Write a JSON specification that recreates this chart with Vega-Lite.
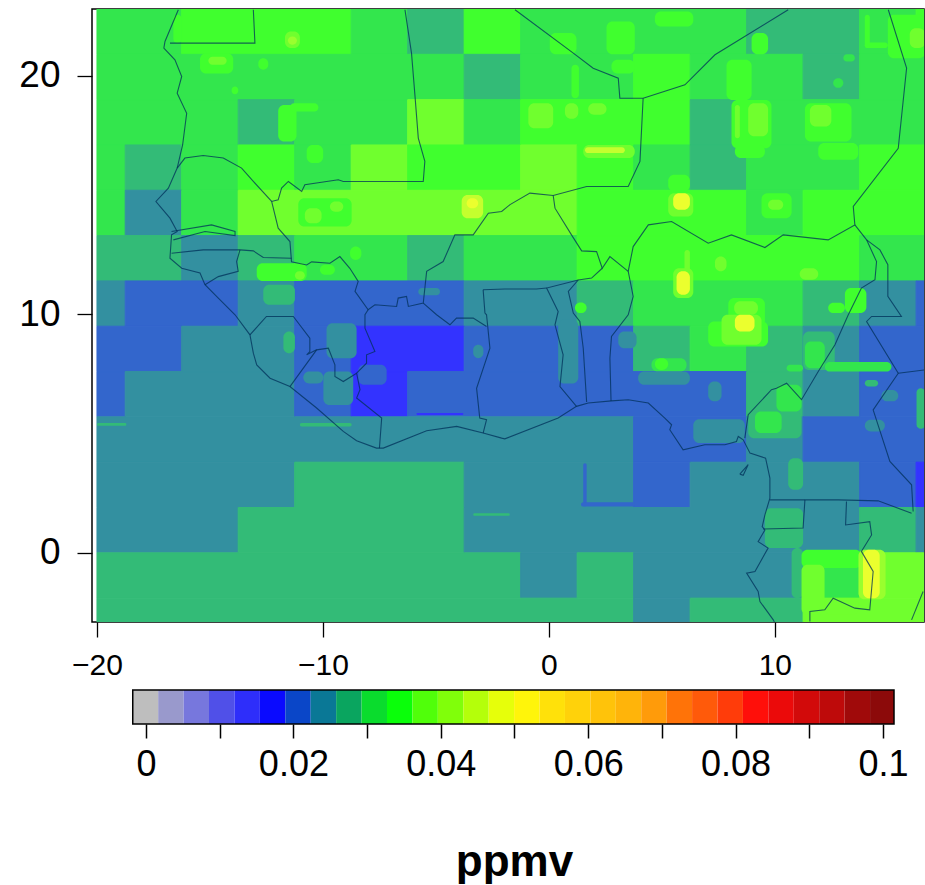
{"$schema":"https://vega.github.io/schema/vega-lite/v6.json","background":"white","padding":{"left":18,"top":8,"right":0,"bottom":0},"bounds":"flush","spacing":68,
"config":{"font":"Liberation Sans","view":{"stroke":null}},
"datasets":{
"base":[
{"lon":-20,"lon2":-16.25,"lat":20.9,"lat2":22.8,"ppmv":0.031},{"lon":-16.25,"lon2":-8.75,"lat":20.9,"lat2":22.8,"ppmv":0.0345},{"lon":-8.75,"lon2":-6.25,"lat":20.9,"lat2":22.8,"ppmv":0.031},{"lon":-6.25,"lon2":-3.75,"lat":20.9,"lat2":22.8,"ppmv":0.0276},{"lon":-3.75,"lon2":-1.25,"lat":20.9,"lat2":22.8,"ppmv":0.0345},{"lon":-1.25,"lon2":8.75,"lat":20.9,"lat2":22.8,"ppmv":0.031},{"lon":8.75,"lon2":13.75,"lat":20.9,"lat2":22.8,"ppmv":0.0276},{"lon":13.75,"lon2":16.25,"lat":20.9,"lat2":22.8,"ppmv":0.031},{"lon":16.25,"lon2":16.7,"lat":20.9,"lat2":22.8,"ppmv":0.0345},
{"lon":-20,"lon2":-3.75,"lat":19,"lat2":20.9,"ppmv":0.031},{"lon":-3.75,"lon2":-1.25,"lat":19,"lat2":20.9,"ppmv":0.0276},{"lon":-1.25,"lon2":3.75,"lat":19,"lat2":20.9,"ppmv":0.031},{"lon":3.75,"lon2":6.25,"lat":19,"lat2":20.9,"ppmv":0.0345},{"lon":6.25,"lon2":11.25,"lat":19,"lat2":20.9,"ppmv":0.031},{"lon":11.25,"lon2":13.75,"lat":19,"lat2":20.9,"ppmv":0.0276},{"lon":13.75,"lon2":16.7,"lat":19,"lat2":20.9,"ppmv":0.031},
{"lon":-20,"lon2":-13.75,"lat":17.1,"lat2":19,"ppmv":0.031},{"lon":-13.75,"lon2":-11.25,"lat":17.1,"lat2":19,"ppmv":0.0276},{"lon":-11.25,"lon2":-6.25,"lat":17.1,"lat2":19,"ppmv":0.031},{"lon":-6.25,"lon2":-3.75,"lat":17.1,"lat2":19,"ppmv":0.038},{"lon":-3.75,"lon2":-1.25,"lat":17.1,"lat2":19,"ppmv":0.031},{"lon":-1.25,"lon2":6.25,"lat":17.1,"lat2":19,"ppmv":0.0345},{"lon":6.25,"lon2":8.75,"lat":17.1,"lat2":19,"ppmv":0.0276},{"lon":8.75,"lon2":16.7,"lat":17.1,"lat2":19,"ppmv":0.031},
{"lon":-20,"lon2":-18.75,"lat":15.2,"lat2":17.1,"ppmv":0.031},{"lon":-18.75,"lon2":-16.25,"lat":15.2,"lat2":17.1,"ppmv":0.0276},{"lon":-16.25,"lon2":-13.75,"lat":15.2,"lat2":17.1,"ppmv":0.031},{"lon":-13.75,"lon2":-11.25,"lat":15.2,"lat2":17.1,"ppmv":0.0345},{"lon":-11.25,"lon2":-8.75,"lat":15.2,"lat2":17.1,"ppmv":0.031},{"lon":-8.75,"lon2":-6.25,"lat":15.2,"lat2":17.1,"ppmv":0.038},{"lon":-6.25,"lon2":-1.25,"lat":15.2,"lat2":17.1,"ppmv":0.0345},{"lon":-1.25,"lon2":1.25,"lat":15.2,"lat2":17.1,"ppmv":0.038},{"lon":1.25,"lon2":3.75,"lat":15.2,"lat2":17.1,"ppmv":0.0345},{"lon":3.75,"lon2":6.25,"lat":15.2,"lat2":17.1,"ppmv":0.031},{"lon":6.25,"lon2":8.75,"lat":15.2,"lat2":17.1,"ppmv":0.0276},{"lon":8.75,"lon2":13.75,"lat":15.2,"lat2":17.1,"ppmv":0.031},{"lon":13.75,"lon2":16.7,"lat":15.2,"lat2":17.1,"ppmv":0.0345},
{"lon":-20,"lon2":-18.75,"lat":13.3,"lat2":15.2,"ppmv":0.031},{"lon":-18.75,"lon2":-16.25,"lat":13.3,"lat2":15.2,"ppmv":0.0241},{"lon":-16.25,"lon2":-13.75,"lat":13.3,"lat2":15.2,"ppmv":0.031},{"lon":-13.75,"lon2":1.25,"lat":13.3,"lat2":15.2,"ppmv":0.038},{"lon":1.25,"lon2":8.75,"lat":13.3,"lat2":15.2,"ppmv":0.0345},{"lon":8.75,"lon2":11.25,"lat":13.3,"lat2":15.2,"ppmv":0.031},{"lon":11.25,"lon2":16.7,"lat":13.3,"lat2":15.2,"ppmv":0.0345},
{"lon":-20,"lon2":-16.25,"lat":11.4,"lat2":13.3,"ppmv":0.0276},{"lon":-16.25,"lon2":-13.75,"lat":11.4,"lat2":13.3,"ppmv":0.0241},{"lon":-13.75,"lon2":-11.25,"lat":11.4,"lat2":13.3,"ppmv":0.0276},{"lon":-11.25,"lon2":-6.25,"lat":11.4,"lat2":13.3,"ppmv":0.031},{"lon":-6.25,"lon2":-3.75,"lat":11.4,"lat2":13.3,"ppmv":0.0276},{"lon":-3.75,"lon2":1.25,"lat":11.4,"lat2":13.3,"ppmv":0.031},{"lon":1.25,"lon2":13.75,"lat":11.4,"lat2":13.3,"ppmv":0.0345},{"lon":13.75,"lon2":16.7,"lat":11.4,"lat2":13.3,"ppmv":0.031},
{"lon":-20,"lon2":-18.75,"lat":9.5,"lat2":11.4,"ppmv":0.0241},{"lon":-18.75,"lon2":-13.75,"lat":9.5,"lat2":11.4,"ppmv":0.0207},{"lon":-13.75,"lon2":-11.25,"lat":9.5,"lat2":11.4,"ppmv":0.0241},{"lon":-11.25,"lon2":-3.75,"lat":9.5,"lat2":11.4,"ppmv":0.0207},{"lon":-3.75,"lon2":1.25,"lat":9.5,"lat2":11.4,"ppmv":0.0241},{"lon":1.25,"lon2":3.75,"lat":9.5,"lat2":11.4,"ppmv":0.0276},{"lon":3.75,"lon2":11.25,"lat":9.5,"lat2":11.4,"ppmv":0.031},{"lon":11.25,"lon2":13.75,"lat":9.5,"lat2":11.4,"ppmv":0.0276},{"lon":13.75,"lon2":16.25,"lat":9.5,"lat2":11.4,"ppmv":0.0241},{"lon":16.25,"lon2":16.7,"lat":9.5,"lat2":11.4,"ppmv":0.0207},
{"lon":-20,"lon2":-16.25,"lat":7.6,"lat2":9.5,"ppmv":0.0207},{"lon":-16.25,"lon2":-11.25,"lat":7.6,"lat2":9.5,"ppmv":0.0241},{"lon":-11.25,"lon2":-8.75,"lat":7.6,"lat2":9.5,"ppmv":0.0207},{"lon":-8.75,"lon2":-3.75,"lat":7.6,"lat2":9.5,"ppmv":0.0172},{"lon":-3.75,"lon2":3.75,"lat":7.6,"lat2":9.5,"ppmv":0.0207},{"lon":3.75,"lon2":6.25,"lat":7.6,"lat2":9.5,"ppmv":0.0276},{"lon":6.25,"lon2":8.75,"lat":7.6,"lat2":9.5,"ppmv":0.031},{"lon":8.75,"lon2":11.25,"lat":7.6,"lat2":9.5,"ppmv":0.0276},{"lon":11.25,"lon2":13.75,"lat":7.6,"lat2":9.5,"ppmv":0.0241},{"lon":13.75,"lon2":16.7,"lat":7.6,"lat2":9.5,"ppmv":0.0207},
{"lon":-20,"lon2":-18.75,"lat":5.7,"lat2":7.6,"ppmv":0.0207},{"lon":-18.75,"lon2":-11.25,"lat":5.7,"lat2":7.6,"ppmv":0.0241},{"lon":-11.25,"lon2":-8.75,"lat":5.7,"lat2":7.6,"ppmv":0.0207},{"lon":-8.75,"lon2":-6.25,"lat":5.7,"lat2":7.6,"ppmv":0.0172},{"lon":-6.25,"lon2":8.75,"lat":5.7,"lat2":7.6,"ppmv":0.0207},{"lon":8.75,"lon2":11.25,"lat":5.7,"lat2":7.6,"ppmv":0.0276},{"lon":11.25,"lon2":13.75,"lat":5.7,"lat2":7.6,"ppmv":0.0241},{"lon":13.75,"lon2":16.7,"lat":5.7,"lat2":7.6,"ppmv":0.0207},
{"lon":-20,"lon2":3.75,"lat":3.8,"lat2":5.7,"ppmv":0.0241},{"lon":3.75,"lon2":8.75,"lat":3.8,"lat2":5.7,"ppmv":0.0207},{"lon":8.75,"lon2":11.25,"lat":3.8,"lat2":5.7,"ppmv":0.0241},{"lon":11.25,"lon2":16.7,"lat":3.8,"lat2":5.7,"ppmv":0.0207},
{"lon":-20,"lon2":-11.25,"lat":1.9,"lat2":3.8,"ppmv":0.0241},{"lon":-11.25,"lon2":-3.75,"lat":1.9,"lat2":3.8,"ppmv":0.0276},{"lon":-3.75,"lon2":3.75,"lat":1.9,"lat2":3.8,"ppmv":0.0241},{"lon":3.75,"lon2":6.25,"lat":1.9,"lat2":3.8,"ppmv":0.0207},{"lon":6.25,"lon2":13.75,"lat":1.9,"lat2":3.8,"ppmv":0.0241},{"lon":13.75,"lon2":16.25,"lat":1.9,"lat2":3.8,"ppmv":0.0207},{"lon":16.25,"lon2":16.7,"lat":1.9,"lat2":3.8,"ppmv":0.0172},
{"lon":-20,"lon2":-13.75,"lat":0,"lat2":1.9,"ppmv":0.0241},{"lon":-13.75,"lon2":-3.75,"lat":0,"lat2":1.9,"ppmv":0.0276},{"lon":-3.75,"lon2":13.75,"lat":0,"lat2":1.9,"ppmv":0.0241},{"lon":13.75,"lon2":16.25,"lat":0,"lat2":1.9,"ppmv":0.0276},{"lon":16.25,"lon2":16.7,"lat":0,"lat2":1.9,"ppmv":0.0241},
{"lon":-20,"lon2":-1.25,"lat":-1.9,"lat2":0,"ppmv":0.0276},{"lon":-1.25,"lon2":1.25,"lat":-1.9,"lat2":0,"ppmv":0.0241},{"lon":1.25,"lon2":3.75,"lat":-1.9,"lat2":0,"ppmv":0.0276},{"lon":3.75,"lon2":11.25,"lat":-1.9,"lat2":0,"ppmv":0.0241},{"lon":11.25,"lon2":13.75,"lat":-1.9,"lat2":0,"ppmv":0.031},{"lon":13.75,"lon2":16.7,"lat":-1.9,"lat2":0,"ppmv":0.038},
{"lon":-20,"lon2":3.75,"lat":-3.8,"lat2":-1.9,"ppmv":0.0276},{"lon":3.75,"lon2":6.25,"lat":-3.8,"lat2":-1.9,"ppmv":0.0241},{"lon":6.25,"lon2":11.25,"lat":-3.8,"lat2":-1.9,"ppmv":0.0276},{"lon":11.25,"lon2":16.7,"lat":-3.8,"lat2":-1.9,"ppmv":0.038}
],
"blobs":[
{"lon":-16.62,"lon2":-16.25,"lat":21.37,"lat2":22.56,"ppmv":0.0345},{"lon":-15.44,"lon2":-13.97,"lat":20.1,"lat2":20.95,"ppmv":0.0345},{"lon":-15.07,"lon2":-14.26,"lat":20.46,"lat2":20.8,"ppmv":0.038},{"lon":-11.68,"lon2":-11.02,"lat":21.16,"lat2":21.86,"ppmv":0.038},{"lon":-11.55,"lon2":-11.15,"lat":21.3,"lat2":21.65,"ppmv":0.0414},{"lon":-12.86,"lon2":-12.42,"lat":20.25,"lat2":20.74,"ppmv":0.0345},{"lon":-14.04,"lon2":-13.75,"lat":19.23,"lat2":19.55,"ppmv":0.0345},{"lon":-11.98,"lon2":-11.17,"lat":17.25,"lat2":18.78,"ppmv":0.0345},{"lon":-11.46,"lon2":-10.2,"lat":18.5,"lat2":18.85,"ppmv":0.0345},{"lon":-10.72,"lon2":-9.99,"lat":16.34,"lat2":17.1,"ppmv":0.0345},
{"lon":-11.09,"lon2":-8.73,"lat":13.68,"lat2":14.87,"ppmv":0.0345},{"lon":-10.8,"lon2":-10.06,"lat":13.82,"lat2":14.45,"ppmv":0.038},{"lon":-9.69,"lon2":-9.1,"lat":14.3,"lat2":14.73,"ppmv":0.038},{"lon":-3.86,"lon2":-2.91,"lat":14.03,"lat2":15,"ppmv":0.0449},{"lon":-3.64,"lon2":-3.13,"lat":14.45,"lat2":14.87,"ppmv":0.0483},
{"lon":-12.93,"lon2":-10.72,"lat":11.4,"lat2":12.14,"ppmv":0.0345},{"lon":-11.24,"lon2":-10.8,"lat":11.45,"lat2":11.8,"ppmv":0.038},{"lon":-10.13,"lon2":-9.47,"lat":11.66,"lat2":12.08,"ppmv":0.0345},{"lon":-8.8,"lon2":-8.3,"lat":12.28,"lat2":12.84,"ppmv":0.0345},{"lon":-5.78,"lon2":-4.82,"lat":10.8,"lat2":11.1,"ppmv":0.0241},{"lon":-12.64,"lon2":-11.24,"lat":10.4,"lat2":11.24,"ppmv":0.0276},
{"lon":-11.75,"lon2":-11.24,"lat":8.37,"lat2":9.28,"ppmv":0.0276},{"lon":-9.84,"lon2":-8.51,"lat":8.16,"lat2":9.63,"ppmv":0.0241},{"lon":-9.98,"lon2":-8.66,"lat":6.2,"lat2":7.6,"ppmv":0.0241},{"lon":-10.87,"lon2":-9.98,"lat":7.1,"lat2":7.6,"ppmv":0.0241},{"lon":-8.44,"lon2":-7.18,"lat":7.05,"lat2":7.88,"ppmv":0.0207},{"lon":-3.35,"lon2":-2.9,"lat":8.16,"lat2":8.72,"ppmv":0.0241},
{"lon":-20,"lon2":-18.7,"lat":5.33,"lat2":5.44,"ppmv":0.0276},{"lon":-11.02,"lon2":-8.73,"lat":5.3,"lat2":5.44,"ppmv":0.0276},{"lon":-3.35,"lon2":-1.73,"lat":1.55,"lat2":1.66,"ppmv":0.0276},{"lon":-5.86,"lon2":-3.79,"lat":5.78,"lat2":5.86,"ppmv":0.0172},
{"lon":4.69,"lon2":6.39,"lat":22.07,"lat2":22.7,"ppmv":0.0345},{"lon":2.55,"lon2":3.8,"lat":20.9,"lat2":22.28,"ppmv":0.0345},{"lon":0.04,"lon2":1.22,"lat":20.9,"lat2":21.79,"ppmv":0.0345},{"lon":2.77,"lon2":3.8,"lat":20.1,"lat2":20.67,"ppmv":0.0345},{"lon":1,"lon2":1.33,"lat":19.06,"lat2":20.46,"ppmv":0.0345},{"lon":8.97,"lon2":9.7,"lat":20.9,"lat2":21.79,"ppmv":0.0345},
{"lon":7.86,"lon2":8.97,"lat":18.99,"lat2":20.67,"ppmv":0.0345},{"lon":8.08,"lon2":9.85,"lat":16.96,"lat2":18.99,"ppmv":0.0345},{"lon":8.82,"lon2":9.7,"lat":17.46,"lat2":18.85,"ppmv":0.038},{"lon":8.23,"lon2":8.45,"lat":17.38,"lat2":18.78,"ppmv":0.038},{"lon":8.23,"lon2":9.56,"lat":16.55,"lat2":17.1,"ppmv":0.0345},
{"lon":11.33,"lon2":13.39,"lat":17.25,"lat2":18.85,"ppmv":0.0345},{"lon":11.55,"lon2":12.5,"lat":17.87,"lat2":18.78,"ppmv":0.038},{"lon":11.92,"lon2":13.69,"lat":16.48,"lat2":17.18,"ppmv":0.0345},{"lon":12.58,"lon2":13.03,"lat":19.5,"lat2":19.9,"ppmv":0.031},{"lon":13.03,"lon2":13.54,"lat":20.6,"lat2":20.9,"ppmv":0.031},
{"lon":-0.91,"lon2":0.19,"lat":17.8,"lat2":18.85,"ppmv":0.038},{"lon":0.71,"lon2":1.3,"lat":18.2,"lat2":18.85,"ppmv":0.038},{"lon":1.74,"lon2":2.55,"lat":18.37,"lat2":18.85,"ppmv":0.038},{"lon":1.52,"lon2":3.8,"lat":16.55,"lat2":17.1,"ppmv":0.038},{"lon":1.6,"lon2":3.36,"lat":16.76,"lat2":17,"ppmv":0.0449},
{"lon":5.28,"lon2":6.24,"lat":15.15,"lat2":15.85,"ppmv":0.0345},{"lon":5.28,"lon2":6.39,"lat":14.1,"lat2":15.08,"ppmv":0.038},{"lon":5.5,"lon2":6.24,"lat":14.38,"lat2":15.08,"ppmv":0.0483},{"lon":9.41,"lon2":10.74,"lat":14.03,"lat2":15.08,"ppmv":0.0345},{"lon":9.7,"lon2":10.37,"lat":14.38,"lat2":14.8,"ppmv":0.038},
{"lon":15,"lon2":16.65,"lat":20.74,"lat2":22.56,"ppmv":0.0345},{"lon":15.97,"lon2":16.65,"lat":21.16,"lat2":21.99,"ppmv":0.038},{"lon":13.98,"lon2":15,"lat":21.16,"lat2":21.4,"ppmv":0.0345},{"lon":13.98,"lon2":14.2,"lat":21.16,"lat2":22.56,"ppmv":0.0345},
{"lon":6,"lon2":6.24,"lat":11.8,"lat2":12.7,"ppmv":0.038},{"lon":5.5,"lon2":6.39,"lat":10.68,"lat2":11.93,"ppmv":0.038},{"lon":5.65,"lon2":6.24,"lat":10.82,"lat2":11.8,"ppmv":0.0483},{"lon":7.35,"lon2":7.86,"lat":11.8,"lat2":12.42,"ppmv":0.038},{"lon":11.1,"lon2":11.92,"lat":11.45,"lat2":11.93,"ppmv":0.038},
{"lon":7.05,"lon2":9.7,"lat":8.65,"lat2":9.7,"ppmv":0.0345},{"lon":7.94,"lon2":9.56,"lat":9.5,"lat2":10.68,"ppmv":0.0345},{"lon":7.64,"lon2":9.41,"lat":8.72,"lat2":9.98,"ppmv":0.038},{"lon":8.2,"lon2":9.25,"lat":9.98,"lat2":10.55,"ppmv":0.038},{"lon":8.23,"lon2":9.1,"lat":9.28,"lat2":9.98,"ppmv":0.0483},
{"lon":13.1,"lon2":14.05,"lat":10.05,"lat2":11.1,"ppmv":0.0345},{"lon":12.36,"lon2":13.1,"lat":10.05,"lat2":10.48,"ppmv":0.0345},{"lon":1.15,"lon2":1.67,"lat":10.05,"lat2":10.5,"ppmv":0.0345},{"lon":16.27,"lon2":16.65,"lat":5.2,"lat2":6.9,"ppmv":0.0276},
{"lon":0.41,"lon2":1.3,"lat":7.1,"lat2":9.77,"ppmv":0.0241},{"lon":3.07,"lon2":3.88,"lat":8.58,"lat2":9.28,"ppmv":0.0241},{"lon":4.54,"lon2":6.09,"lat":7.6,"lat2":8.16,"ppmv":0.031},{"lon":4.69,"lon2":5.28,"lat":7.67,"lat2":8.16,"ppmv":0.0345},{"lon":3.95,"lon2":6.24,"lat":7.05,"lat2":7.6,"ppmv":0.0241},{"lon":7.05,"lon2":7.64,"lat":6.35,"lat2":7.18,"ppmv":0.0241},{"lon":6.39,"lon2":8.67,"lat":4.6,"lat2":5.6,"ppmv":0.0241},
{"lon":8.82,"lon2":11.18,"lat":4.8,"lat2":5.93,"ppmv":0.0276},{"lon":10.07,"lon2":11.18,"lat":5.93,"lat2":7.05,"ppmv":0.031},{"lon":9.12,"lon2":10.3,"lat":5.02,"lat2":5.93,"ppmv":0.031},{"lon":10.52,"lon2":11.25,"lat":7.6,"lat2":7.88,"ppmv":0.031},{"lon":11.25,"lon2":12.65,"lat":7.67,"lat2":9.28,"ppmv":0.0276},{"lon":11.33,"lon2":12.21,"lat":7.74,"lat2":8.86,"ppmv":0.031},{"lon":12.21,"lon2":15.16,"lat":7.6,"lat2":8,"ppmv":0.031},{"lon":13.98,"lon2":14.57,"lat":6.97,"lat2":7.25,"ppmv":0.0276},{"lon":14.72,"lon2":15.46,"lat":6.35,"lat2":6.83,"ppmv":0.0241},{"lon":13.98,"lon2":14.87,"lat":5.09,"lat2":5.58,"ppmv":0.0241},
{"lon":10.59,"lon2":11.25,"lat":2.64,"lat2":3.97,"ppmv":0.0276},{"lon":9.56,"lon2":11.25,"lat":0.2,"lat2":1.87,"ppmv":0.0276},{"lon":1.52,"lon2":1.67,"lat":1.94,"lat2":3.76,"ppmv":0.0207},{"lon":1.42,"lon2":3.8,"lat":1.94,"lat2":2.12,"ppmv":0.0207},
{"lon":10.74,"lon2":11.25,"lat":-1.9,"lat2":0.2,"ppmv":0.0276},{"lon":11.18,"lon2":13.83,"lat":-0.64,"lat2":0.13,"ppmv":0.0345},{"lon":11.18,"lon2":12.2,"lat":-2.6,"lat2":-0.5,"ppmv":0.038},{"lon":12.2,"lon2":13.7,"lat":-2.6,"lat2":-1.9,"ppmv":0.038},{"lon":13.7,"lon2":14.9,"lat":-1.95,"lat2":0.13,"ppmv":0.0414},{"lon":13.9,"lon2":14.64,"lat":-1.9,"lat2":0.13,"ppmv":0.0483}
],
"lines":[
{"g":1,"lon":-16.4,"lat":22.77},{"g":1,"lon":-16.99,"lat":21.44},{"g":1,"lon":-17.04,"lat":21.16},{"g":1,"lon":-16.55,"lat":20.67},{"g":1,"lon":-16.25,"lat":19.97},{"g":1,"lon":-16.45,"lat":19.27},{"g":1,"lon":-16.03,"lat":18.43},{"g":1,"lon":-16.21,"lat":17.1},{"g":1,"lon":-16.45,"lat":16.13},{"g":1,"lon":-16.84,"lat":15.29},{"g":1,"lon":-17.39,"lat":14.73},{"g":1,"lon":-16.77,"lat":14.03},{"g":1,"lon":-16.45,"lat":13.47},{"g":1,"lon":-16.7,"lat":13.33},{"g":1,"lon":-16.77,"lat":12.35},{"g":1,"lon":-16.25,"lat":11.93},{"g":1,"lon":-15.44,"lat":11.73},{"g":1,"lon":-15.22,"lat":11.24},{"g":1,"lon":-14.63,"lat":10.68},{"g":1,"lon":-13.89,"lat":9.98},{"g":1,"lon":-13.23,"lat":9.14},{"g":1,"lon":-13.08,"lat":8.37},{"g":1,"lon":-12.93,"lat":7.88},{"g":1,"lon":-12.34,"lat":7.32},{"g":1,"lon":-11.46,"lat":6.97},{"g":1,"lon":-10.28,"lat":6.07},{"g":1,"lon":-9.1,"lat":5.09},{"g":1,"lon":-8.51,"lat":4.7},{"g":1,"lon":-7.63,"lat":4.39},{"g":1,"lon":-7.33,"lat":4.39},{"g":1,"lon":-5.41,"lat":5.12},{"g":1,"lon":-4.08,"lat":5.3},{"g":1,"lon":-2.91,"lat":5.02},{"g":1,"lon":-2.09,"lat":4.81},{"g":1,"lon":-1.95,"lat":4.78},{"g":1,"lon":0.41,"lat":5.65},{"g":1,"lon":1.22,"lat":6.14},{"g":1,"lon":1.74,"lat":6.28},{"g":1,"lon":2.77,"lat":6.37},{"g":1,"lon":3.51,"lat":6.42},{"g":1,"lon":4.4,"lat":6.28},{"g":1,"lon":5.13,"lat":5.65},{"g":1,"lon":5.43,"lat":5.37},{"g":1,"lon":5.35,"lat":5.16},{"g":1,"lon":5.94,"lat":4.32},{"g":1,"lon":6.9,"lat":4.53},{"g":1,"lon":7.79,"lat":4.53},{"g":1,"lon":8.3,"lat":4.67},{"g":1,"lon":8.38,"lat":4.88},{"g":1,"lon":8.6,"lat":4.74},{"g":1,"lon":8.9,"lat":4.18},{"g":1,"lon":9.59,"lat":3.97},{"g":1,"lon":9.78,"lat":3.13},{"g":1,"lon":9.78,"lat":2.29},{"g":1,"lon":9.56,"lat":1.59},{"g":1,"lon":9.44,"lat":1.1},{"g":1,"lon":9.56,"lat":0.96},{"g":1,"lon":9.26,"lat":0.47},{"g":1,"lon":9.7,"lat":0.2},{"g":1,"lon":9.12,"lat":-0.78},{"g":1,"lon":8.75,"lat":-0.85},{"g":1,"lon":9.26,"lat":-1.62},{"g":1,"lon":9.34,"lat":-2.04},{"g":1,"lon":9.93,"lat":-2.81},{"g":1,"lon":10,"lat":-2.95},
{"g":2,"lon":-16.77,"lat":21.37},{"g":2,"lon":-13.01,"lat":21.37},{"g":2,"lon":-13.08,"lat":22.77},
{"g":3,"lon":-6.37,"lat":22.77},{"g":3,"lon":-6.08,"lat":20.95},{"g":3,"lon":-5.93,"lat":19.2},{"g":3,"lon":-5.78,"lat":17.39},{"g":3,"lon":-5.49,"lat":16.41},{"g":3,"lon":-5.56,"lat":15.57},{"g":3,"lon":-9.1,"lat":15.57},{"g":3,"lon":-9.32,"lat":15.64},{"g":3,"lon":-10.8,"lat":15.43},{"g":3,"lon":-10.94,"lat":15.15},{"g":3,"lon":-11.53,"lat":15.57},{"g":3,"lon":-11.83,"lat":15.29},{"g":3,"lon":-11.98,"lat":14.8},{"g":3,"lon":-12.27,"lat":14.73},{"g":3,"lon":-13.08,"lat":15.57},{"g":3,"lon":-13.6,"lat":16.13},{"g":3,"lon":-14.41,"lat":16.55},{"g":3,"lon":-15.3,"lat":16.66},{"g":3,"lon":-16.11,"lat":16.55},{"g":3,"lon":-16.45,"lat":16.13},
{"g":4,"lon":-12.27,"lat":14.73},{"g":4,"lon":-11.98,"lat":13.61},{"g":4,"lon":-11.46,"lat":13.05},{"g":4,"lon":-11.39,"lat":12.2},{"g":4,"lon":-10.72,"lat":12.07},{"g":4,"lon":-10.5,"lat":12.2},{"g":4,"lon":-9.69,"lat":12.14},{"g":4,"lon":-9.25,"lat":12.42},{"g":4,"lon":-8.81,"lat":11.93},{"g":4,"lon":-8.44,"lat":11.38},{"g":4,"lon":-8.58,"lat":10.96},{"g":4,"lon":-8,"lat":10.19},{"g":4,"lon":-7.7,"lat":10.4},{"g":4,"lon":-6.74,"lat":10.33},{"g":4,"lon":-6.67,"lat":10.68},{"g":4,"lon":-6.3,"lat":10.75},{"g":4,"lon":-6.22,"lat":10.33},{"g":4,"lon":-5.56,"lat":10.47},{"g":4,"lon":-5.41,"lat":11.8},{"g":4,"lon":-4.68,"lat":12.21},{"g":4,"lon":-4.16,"lat":13.33},{"g":4,"lon":-3.35,"lat":13.33},{"g":4,"lon":-2.68,"lat":14.24},{"g":4,"lon":-2.09,"lat":14.31},{"g":4,"lon":-1.72,"lat":14.6},{"g":4,"lon":-0.84,"lat":15.08},{"g":4,"lon":0.19,"lat":14.98},{"g":4,"lon":1.67,"lat":15.36},{"g":4,"lon":3.51,"lat":15.36},{"g":4,"lon":4.03,"lat":16.41},{"g":4,"lon":4.17,"lat":19.06},
{"g":5,"lon":4.17,"lat":19.06},{"g":5,"lon":3.14,"lat":19.06},{"g":5,"lon":3.07,"lat":19.9},{"g":5,"lon":1.96,"lat":20.32},{"g":5,"lon":1.08,"lat":20.95},{"g":5,"lon":-1.5,"lat":22.77},
{"g":6,"lon":4.17,"lat":19.06},{"g":6,"lon":6.02,"lat":19.62},{"g":6,"lon":7.35,"lat":20.88},{"g":6,"lon":10.59,"lat":22.77},
{"g":7,"lon":15.02,"lat":22.77},{"g":7,"lon":15.83,"lat":20.32},{"g":7,"lon":15.46,"lat":16.96},{"g":7,"lon":13.47,"lat":14.52},{"g":7,"lon":13.54,"lat":13.75},{"g":7,"lon":12.36,"lat":13.12},{"g":7,"lon":10.37,"lat":13.33},{"g":7,"lon":9.56,"lat":12.8},{"g":7,"lon":8.08,"lat":13.33},{"g":7,"lon":7.05,"lat":12.98},{"g":7,"lon":5.43,"lat":13.89},{"g":7,"lon":4.4,"lat":13.75},{"g":7,"lon":3.73,"lat":12.84},{"g":7,"lon":3.51,"lat":11.8},{"g":7,"lon":3.73,"lat":10.75},{"g":7,"lon":3.51,"lat":9.98},{"g":7,"lon":2.77,"lat":9.07},{"g":7,"lon":2.7,"lat":8.16},{"g":7,"lon":2.75,"lat":6.37},
{"g":8,"lon":0.19,"lat":14.98},{"g":8,"lon":0.27,"lat":14.45},{"g":8,"lon":1,"lat":13.33},{"g":8,"lon":1.45,"lat":12.66},{"g":8,"lon":2.11,"lat":12.63},{"g":8,"lon":2.36,"lat":11.93},{"g":8,"lon":2.7,"lat":12.42},{"g":8,"lon":3.51,"lat":11.8},
{"g":9,"lon":2.36,"lat":11.93},{"g":9,"lon":1.89,"lat":11.52},{"g":9,"lon":1.3,"lat":11.44},{"g":9,"lon":0.86,"lat":10.96},{"g":9,"lon":1.08,"lat":10.05},{"g":9,"lon":1.37,"lat":9.7},{"g":9,"lon":1.52,"lat":8.58},{"g":9,"lon":1.67,"lat":6.32},
{"g":10,"lon":1.3,"lat":11.44},{"g":10,"lon":-0.1,"lat":11.1},{"g":10,"lon":0.41,"lat":10.12},{"g":10,"lon":0.27,"lat":9.56},{"g":10,"lon":0.63,"lat":8.3},{"g":10,"lon":0.49,"lat":6.97},{"g":10,"lon":1.22,"lat":6.14},
{"g":11,"lon":-2.91,"lat":11.03},{"g":11,"lon":-1.95,"lat":11.06},{"g":11,"lon":-0.55,"lat":11.06},{"g":11,"lon":-0.1,"lat":11.1},
{"g":12,"lon":-2.91,"lat":11.03},{"g":12,"lon":-2.83,"lat":10.05},{"g":12,"lon":-2.76,"lat":9.98},{"g":12,"lon":-2.61,"lat":8.58},{"g":12,"lon":-3.2,"lat":6.9},{"g":12,"lon":-3.06,"lat":5.65},{"g":12,"lon":-2.76,"lat":5.58},{"g":12,"lon":-2.91,"lat":5.02},
{"g":13,"lon":-5.56,"lat":10.47},{"g":13,"lon":-4.97,"lat":9.98},{"g":13,"lon":-4.38,"lat":9.56},{"g":13,"lon":-4.09,"lat":9.84},{"g":13,"lon":-3.35,"lat":9.84},{"g":13,"lon":-2.76,"lat":9.49},
{"g":14,"lon":-8,"lat":10.19},{"g":14,"lon":-8.14,"lat":9.98},{"g":14,"lon":-8.14,"lat":9.42},{"g":14,"lon":-7.7,"lat":8.44},{"g":14,"lon":-8.07,"lat":8.3},{"g":14,"lon":-8.07,"lat":7.95},{"g":14,"lon":-8.51,"lat":7.53},{"g":14,"lon":-8.36,"lat":6.84},{"g":14,"lon":-8.51,"lat":6.49},{"g":14,"lon":-7.4,"lat":5.65},{"g":14,"lon":-7.5,"lat":4.39},
{"g":15,"lon":-8.51,"lat":7.53},{"g":15,"lon":-9.1,"lat":7.18},{"g":15,"lon":-9.47,"lat":7.39},{"g":15,"lon":-9.47,"lat":7.88},{"g":15,"lon":-9.76,"lat":8.58},{"g":15,"lon":-10.28,"lat":8.51},{"g":15,"lon":-11.46,"lat":6.97},
{"g":16,"lon":-13.23,"lat":9.14},{"g":16,"lon":-12.5,"lat":9.91},{"g":16,"lon":-11.31,"lat":9.91},{"g":16,"lon":-10.58,"lat":9},{"g":16,"lon":-10.58,"lat":8.44},{"g":16,"lon":-10.72,"lat":8.3},{"g":16,"lon":-10.28,"lat":8.51},
{"g":17,"lon":-16.7,"lat":13.47},{"g":17,"lon":-14.93,"lat":13.75},{"g":17,"lon":-13.89,"lat":13.47},{"g":17,"lon":-13.89,"lat":13.3},{"g":17,"lon":-15.22,"lat":13.47},{"g":17,"lon":-16.62,"lat":13.12},
{"g":18,"lon":-16.7,"lat":12.56},{"g":18,"lon":-15.3,"lat":12.7},{"g":18,"lon":-13.67,"lat":12.7},{"g":18,"lon":-13.08,"lat":12.66},{"g":18,"lon":-12.64,"lat":12.38},{"g":18,"lon":-11.39,"lat":12.35},
{"g":19,"lon":-13.67,"lat":12.7},{"g":19,"lon":-13.82,"lat":12.21},{"g":19,"lon":-13.75,"lat":11.8},{"g":19,"lon":-14.63,"lat":11.58},{"g":19,"lon":-15.22,"lat":11.24},
{"g":20,"lon":13.54,"lat":13.75},{"g":20,"lon":14.06,"lat":13.12},{"g":20,"lon":14.5,"lat":12.21},{"g":20,"lon":14.43,"lat":11.45},{"g":20,"lon":13.83,"lat":11.1},{"g":20,"lon":13.25,"lat":9.98},{"g":20,"lon":12.66,"lat":8.72},{"g":20,"lon":11.92,"lat":7.6},{"g":20,"lon":11.18,"lat":6.42},{"g":20,"lon":10.52,"lat":7.11},{"g":20,"lon":10.07,"lat":6.9},{"g":20,"lon":9.85,"lat":6.84},{"g":20,"lon":8.82,"lat":5.79},{"g":20,"lon":8.67,"lat":4.81},
{"g":21,"lon":14.06,"lat":13.12},{"g":21,"lon":14.65,"lat":12.7},{"g":21,"lon":15,"lat":12.08},{"g":21,"lon":15,"lat":10.75},{"g":21,"lon":15.6,"lat":9.91},{"g":21,"lon":14.28,"lat":9.91},{"g":21,"lon":14.06,"lat":9.7},{"g":21,"lon":15.46,"lat":7.53},{"g":21,"lon":14.35,"lat":5.99},{"g":21,"lon":15.09,"lat":3.83},{"g":21,"lon":16.05,"lat":2.85},{"g":21,"lon":16.12,"lat":1.73},
{"g":22,"lon":15.46,"lat":7.53},{"g":22,"lon":16.64,"lat":7.67},
{"g":23,"lon":9.78,"lat":2.22},{"g":23,"lon":11.33,"lat":2.22},{"g":23,"lon":12.8,"lat":2.22},{"g":23,"lon":14.57,"lat":2.18},{"g":23,"lon":16.05,"lat":1.66},
{"g":24,"lon":11.33,"lat":2.22},{"g":24,"lon":11.25,"lat":1.04},{"g":24,"lon":9.48,"lat":1},
{"g":25,"lon":13.17,"lat":2.15},{"g":25,"lon":13.13,"lat":1.17},{"g":25,"lon":14.2,"lat":1.31},{"g":25,"lon":14.28,"lat":0.75},{"g":25,"lon":13.83,"lat":0.06},{"g":25,"lon":14.35,"lat":-0.78},{"g":25,"lon":14.2,"lat":-2.39},{"g":25,"lon":13.54,"lat":-2.32},{"g":25,"lon":12.58,"lat":-1.9},{"g":25,"lon":12.21,"lat":-2.39},{"g":25,"lon":11.55,"lat":-2.46},{"g":25,"lon":11.55,"lat":-2.88},
{"g":26,"lon":16.05,"lat":-2.81},{"g":26,"lon":16.56,"lat":-1.62},
{"g":27,"lon":8.45,"lat":3.3},{"g":27,"lon":8.82,"lat":3.7},{"g":27,"lon":8.6,"lat":3.25},{"g":27,"lon":8.45,"lat":3.3}
],
"levels":[
{"v":-0.0018,"v2":0.00165,"ppmv":0},{"v":0.00165,"v2":0.0051,"ppmv":0.0034},{"v":0.0051,"v2":0.00855,"ppmv":0.0068},{"v":0.00855,"v2":0.012,"ppmv":0.0103},{"v":0.012,"v2":0.01545,"ppmv":0.0137},{"v":0.01545,"v2":0.0189,"ppmv":0.0172},{"v":0.0189,"v2":0.02235,"ppmv":0.0207},{"v":0.02235,"v2":0.0258,"ppmv":0.0241},{"v":0.0258,"v2":0.02925,"ppmv":0.0276},{"v":0.02925,"v2":0.0327,"ppmv":0.031},{"v":0.0327,"v2":0.03615,"ppmv":0.0345},{"v":0.03615,"v2":0.0396,"ppmv":0.038},{"v":0.0396,"v2":0.04305,"ppmv":0.0414},{"v":0.04305,"v2":0.0465,"ppmv":0.0449},{"v":0.0465,"v2":0.04995,"ppmv":0.0483},{"v":0.04995,"v2":0.0534,"ppmv":0.0518},{"v":0.0534,"v2":0.05685,"ppmv":0.0552},{"v":0.05685,"v2":0.0603,"ppmv":0.0587},{"v":0.0603,"v2":0.06375,"ppmv":0.0621},{"v":0.06375,"v2":0.0672,"ppmv":0.0656},{"v":0.0672,"v2":0.07065,"ppmv":0.069},{"v":0.07065,"v2":0.0741,"ppmv":0.0725},{"v":0.0741,"v2":0.07755,"ppmv":0.0759},{"v":0.07755,"v2":0.081,"ppmv":0.0794},{"v":0.081,"v2":0.08445,"ppmv":0.0828},{"v":0.08445,"v2":0.0879,"ppmv":0.0863},{"v":0.0879,"v2":0.09135,"ppmv":0.0897},{"v":0.09135,"v2":0.0948,"ppmv":0.0932},{"v":0.0948,"v2":0.09825,"ppmv":0.0966},{"v":0.09825,"v2":0.1015,"ppmv":0.1}
],
"frame":[{"v":-0.0018,"v2":0.1015}]
},
"vconcat":[
{"width":832,"height":613,"view":{"stroke":"#000000","strokeWidth":1.5},
"resolve":{"scale":{"x":"shared","y":"shared","color":"shared","stroke":"shared"}},
"layer":[
{"data":{"name":"base"},"mark":{"type":"rect","strokeWidth":1,"clip":true},
"encoding":{
"x":{"field":"lon","type":"quantitative","scale":{"domain":[-20.22,16.6],"nice":false,"zero":false},"axis":{"title":null,"values":[-20,-10,0,10],"format":"d","grid":false,"domain":false,"tickSize":15,"tickWidth":1.3,"tickColor":"#000000","labelFontSize":30,"labelColor":"#000000","labelPadding":13,"labelFlush":false}},
"x2":{"field":"lon2"},
"y":{"field":"lat","type":"quantitative","scale":{"domain":[-2.9,22.8],"nice":false,"zero":false},"axis":{"title":null,"values":[0,10,20],"format":"d","grid":false,"domain":false,"tickSize":15,"tickWidth":1.3,"tickColor":"#000000","labelFontSize":37,"labelColor":"#000000","labelPadding":17}},
"y2":{"field":"lat2"},
"color":{"field":"ppmv","type":"quantitative","legend":null,"scale":{"type":"quantize","domain":[-0.0018,0.1017],"range":["#CBCBCB","#ADADD6","#9292E4","#7373ED","#5858FB","#3333FF","#3366CC","#3390A0","#33BB77","#33E64D","#40FF2E","#70FF2E","#99FF2E","#C4FF2E","#EBFF2E","#FFF72E","#FFE63B","#FFDB3B","#FFCF3B","#FFC33B","#FFAF3B","#FF8F39","#FF7B3B","#FF633B","#FF3F3B","#EF3B3B","#DB3B3B","#CB3B3B","#B33B3B","#A33B3B"]}},
"stroke":{"field":"ppmv","type":"quantitative","legend":null,"scale":{"type":"quantize","domain":[-0.0018,0.1017],"range":["#CBCBCB","#ADADD6","#9292E4","#7373ED","#5858FB","#3333FF","#3366CC","#3390A0","#33BB77","#33E64D","#40FF2E","#70FF2E","#99FF2E","#C4FF2E","#EBFF2E","#FFF72E","#FFE63B","#FFDB3B","#FFCF3B","#FFC33B","#FFAF3B","#FF8F39","#FF7B3B","#FF633B","#FF3F3B","#EF3B3B","#DB3B3B","#CB3B3B","#B33B3B","#A33B3B"]}}
}},
{"data":{"name":"blobs"},"mark":{"type":"rect","cornerRadius":6,"clip":true},
"encoding":{
"x":{"field":"lon","type":"quantitative"},"x2":{"field":"lon2"},
"y":{"field":"lat2","type":"quantitative"},"y2":{"field":"lat"},
"color":{"field":"ppmv","type":"quantitative","legend":null,"scale":{"type":"quantize","domain":[-0.0018,0.1017],"range":["#CBCBCB","#ADADD6","#9292E4","#7373ED","#5858FB","#3333FF","#3366CC","#3390A0","#33BB77","#33E64D","#40FF2E","#70FF2E","#99FF2E","#C4FF2E","#EBFF2E","#FFF72E","#FFE63B","#FFDB3B","#FFCF3B","#FFC33B","#FFAF3B","#FF8F39","#FF7B3B","#FF633B","#FF3F3B","#EF3B3B","#DB3B3B","#CB3B3B","#B33B3B","#A33B3B"]}}
}},
{"data":{"name":"lines"},"mark":{"type":"line","stroke":"#00305a","strokeWidth":1.1,"opacity":0.75,"clip":true},
"encoding":{
"x":{"field":"lon","type":"quantitative"},
"y":{"field":"lat","type":"quantitative"},
"detail":{"field":"g","type":"nominal"},
"order":{"value":null}
}}
]},
{"width":802,"height":34,
"resolve":{"scale":{"x":"shared","color":"shared"}},
"layer":[
{"data":{"name":"levels"},"mark":{"type":"rect"},
"encoding":{
"x":{"field":"v","type":"quantitative","scale":{"domain":[-0.00733,0.1015],"nice":false,"zero":false},"axis":{"title":"ppmv","titleFontSize":44,"titleFontWeight":"bold","titleColor":"#000000","titleX":422,"titleY":138,"titleBaseline":"middle","values":[0,0.01,0.02,0.03,0.04,0.05,0.06,0.07,0.08,0.09,0.1],"labelExpr":"round(datum.value*100)%2==0?format(datum.value,'~g'):''","labelOverlap":false,"labelFlush":false,"grid":false,"domain":false,"tickSize":14,"tickColor":"#000000","tickWidth":1.5,"labelFontSize":36,"labelColor":"#000000","labelPadding":9}},
"x2":{"field":"v2"},
"color":{"field":"ppmv","type":"quantitative","legend":null,"scale":{"type":"quantize","domain":[-0.0018,0.1017],"range":["#BEBEBE","#9999CC","#7777DD","#5050E8","#2E2EFA","#0A0AFF","#0A46C8","#0A7896","#0AA55F","#0ADC2D","#0AFF0A","#50FF0A","#80FF0A","#B4FF0A","#E6FF0A","#FFF50A","#FFE10A","#FFD20A","#FFC30A","#FFB40A","#FF9B0A","#FF7308","#FF5A0A","#FF3C0A","#FF0F0A","#EB0A0A","#D20A0A","#BE0A0A","#A00A0A","#8C0A0A"]}}
}},
{"data":{"name":"frame"},"mark":{"type":"rect","fill":null,"stroke":"#000000","strokeWidth":1.5},
"encoding":{"x":{"field":"v","type":"quantitative"},"x2":{"field":"v2"}}}
]}
],
"resolve":{"scale":{"color":"independent","stroke":"independent"}}
}
